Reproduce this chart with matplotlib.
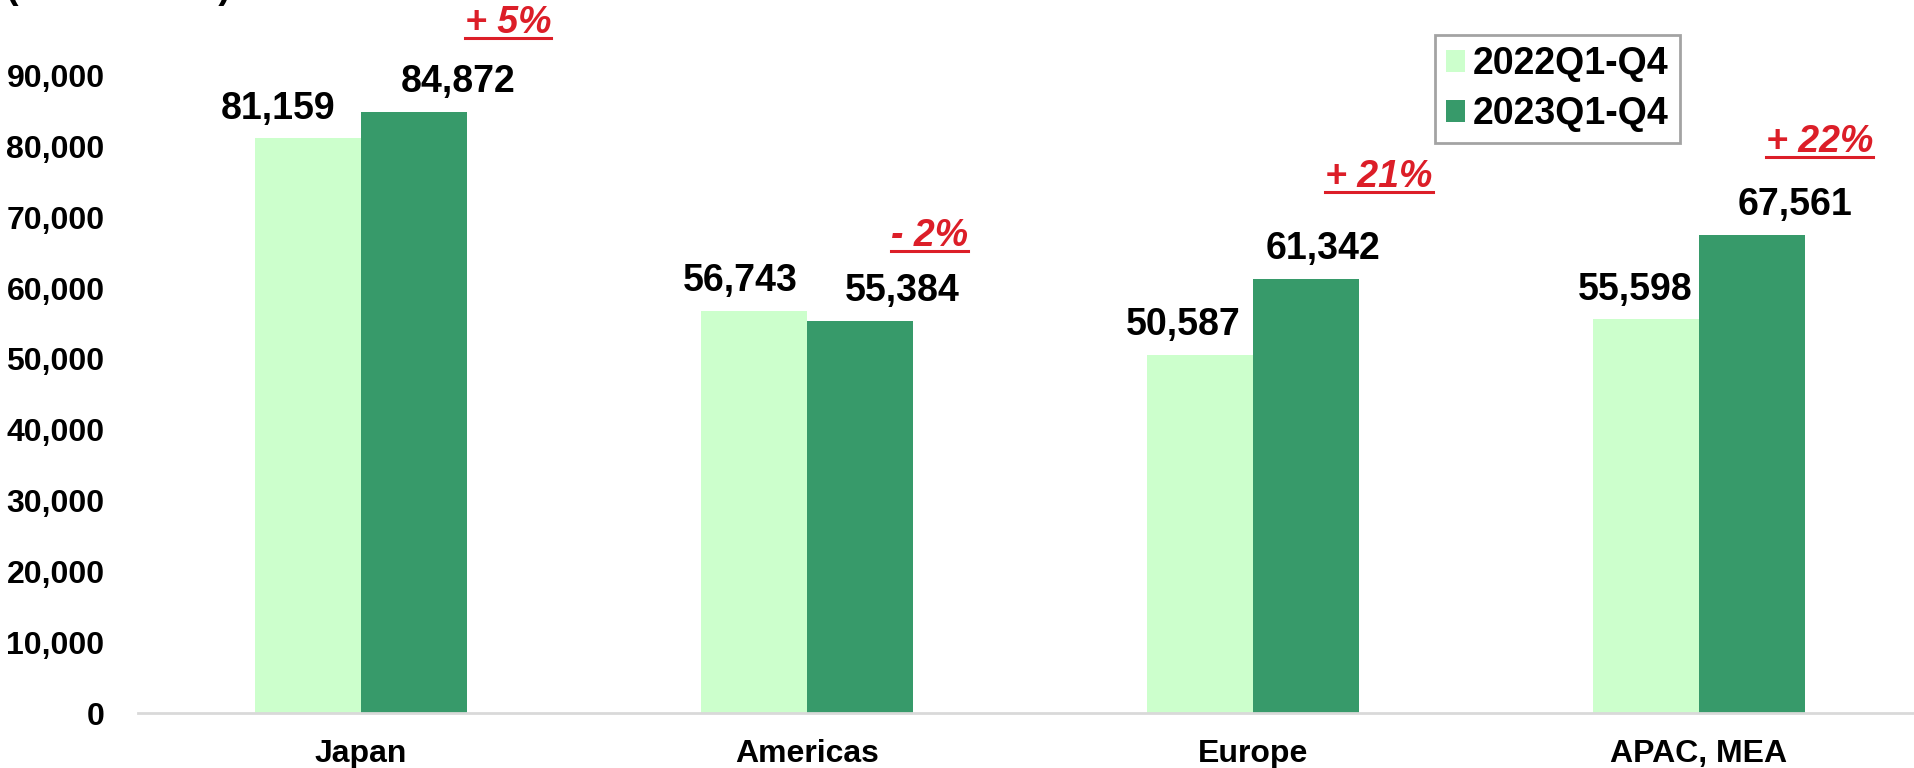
import matplotlib
matplotlib.use("Agg")
import matplotlib.pyplot as plt
from matplotlib.lines import Line2D
import numpy as np

plt.rcParams['font.family'] = ['Liberation Sans', 'DejaVu Sans']
plt.rcParams['font.weight'] = 'bold'

# Data
regions = ['Japan', 'Americas', 'Europe', 'APAC, MEA']
sales_2022 = [81159, 56743, 50587, 55598]
sales_2023 = [84872, 55384, 61342, 67561]
series_names = ['2022Q1-Q4', '2023Q1-Q4']
growth_labels = ['+ 5%', '- 2%', '+ 21%', '+ 22%']
y_ticks = [0, 10000, 20000, 30000, 40000, 50000, 60000, 70000, 80000, 90000]

# Colors
C_LIGHT = '#CCFFCC'
C_DARK = '#379A6A'
C_RED = '#DC1E28'
C_AXIS = '#D9D9D9'

DPI = 100
# layout tweaks: value label shifts (pixels), growth label placement
lbl_dx_2022 = [-30, -14, -17, -11]
lbl_dx_2023 = [44, 42, 17, 43]
pct_dx = [0.33, 0.274, 0.283, 0.27]
pct_dy = [11200, 10500, 13000, 11700]

fig = plt.figure(figsize=(19.15, 7.68), dpi=DPI)
ax = fig.add_axes([0.072, 0.0716, 0.9316, 0.922])

x = np.arange(len(regions))
w = 0.238
b1 = ax.bar(x - w/2, sales_2022, w, color=C_LIGHT, label=series_names[0], zorder=2)
b2 = ax.bar(x + w/2, sales_2023, w, color=C_DARK, label=series_names[1], zorder=2)

ax.set_xlim(-0.5, 3.5)
ax.set_ylim(0, 100000)
ax.set_yticks(y_ticks)
ax.set_yticklabels([f"{v:,}" for v in y_ticks], fontsize=23, fontweight='bold')
ax.set_xticks(x)
ax.set_xticklabels(regions, fontsize=23, fontweight='bold')
ax.tick_params(axis='y', length=0, pad=24)
ax.tick_params(axis='x', length=0, pad=19)

for s in ['top', 'right', 'left']:
    ax.spines[s].set_visible(False)
ax.spines['bottom'].set_color(C_AXIS)
ax.spines['bottom'].set_linewidth(2)

# value labels
for bars, vals, shifts in [(b1, sales_2022, lbl_dx_2022), (b2, sales_2023, lbl_dx_2023)]:
    for rect, v, dx in zip(bars, vals, shifts):
        ax.annotate(f"{v:,}", (rect.get_x() + rect.get_width()/2, v),
                    xytext=(dx * 72 / DPI, 8.5), textcoords='offset points',
                    ha='center', va='bottom', fontsize=27, fontweight='bold')

# growth labels
pct_texts = []
for i, lab in enumerate(growth_labels):
    t = ax.text(x[i] + pct_dx[i], sales_2023[i] + pct_dy[i], lab, color=C_RED,
                ha='center', va='baseline', fontsize=27, fontweight='bold',
                style='italic')
    pct_texts.append(t)

leg = fig.legend(handles=[b1, b2], labels=series_names, loc='upper left',
                 bbox_to_anchor=(1435/1915, 1 - 35/768), fontsize=27,
                 frameon=True, fancybox=False, handlelength=0.5, handleheight=0.5,
                 handletextpad=0.22, labelspacing=0.37, borderpad=0.3,
                 borderaxespad=0)
leg.get_frame().set_edgecolor('#8C8C8C')
leg.get_frame().set_linewidth(2)

fig.text(6/1915, 1 + 2/768, '(Million JPY)', fontsize=27, fontweight='bold',
         ha='left', va='baseline')

# underline the growth labels
fig.canvas.draw()
renderer = fig.canvas.get_renderer()
inv = fig.transFigure.inverted()
for t in pct_texts:
    bb = t.get_window_extent(renderer)
    y_line = bb.y0 + 3
    (fx0, fy), (fx1, _) = inv.transform([(bb.x0, y_line), (bb.x1, y_line)])
    fig.add_artist(Line2D([fx0, fx1], [fy, fy], color=C_RED, lw=2.2))

fig.savefig('out.png', dpi=DPI)
plt.close()
